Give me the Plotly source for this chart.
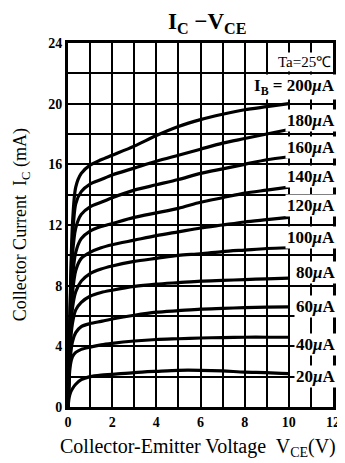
import plotly.graph_objects as go

# V_CE sample points (V) and I_C readings (mA) for each base current
vce = [0, 0.05, 0.1, 0.2, 0.35, 0.6, 1, 1.5, 2, 3, 4, 5, 6, 7, 8, 9, 10]

ib_ua = [200, 180, 160, 140, 120, 100, 80, 60, 40, 20]

ic_200 = [0, 3, 7, 12, 14.5, 15.4, 15.95, 16.3, 16.6, 17.2, 17.9, 18.5, 18.95, 19.3, 19.6, 19.8, 20.0]
ic_180 = [0, 3, 6.5, 11, 13.4, 14.2, 14.7, 15.0, 15.3, 15.75, 16.2, 16.6, 17.0, 17.4, 17.7, 18.0, 18.3]
ic_160 = [0, 3, 6, 10, 11.8, 12.7, 13.2, 13.5, 13.8, 14.3, 14.65, 15.0, 15.4, 15.7, 16.0, 16.3, 16.5]
ic_140 = [0, 3, 5.5, 8.5, 10.2, 11.1, 11.6, 11.9, 12.1, 12.5, 12.8, 13.1, 13.5, 13.8, 14.1, 14.3, 14.5]
ic_120 = [0, 2.5, 5, 7.5, 9.0, 9.8, 10.2, 10.5, 10.7, 11.0, 11.3, 11.55, 11.8, 12.0, 12.2, 12.35, 12.5]
ic_100 = [0, 2.5, 4.5, 6.5, 7.6, 8.3, 8.8, 9.1, 9.3, 9.6, 9.8, 10.0, 10.1, 10.25, 10.35, 10.45, 10.5]
ic_80 = [0, 2, 4, 5.5, 6.4, 6.9, 7.3, 7.55, 7.7, 7.95, 8.1, 8.2, 8.3, 8.35, 8.4, 8.45, 8.5]
ic_60 = [0, 2, 3.2, 4.3, 4.9, 5.3, 5.5, 5.65, 5.8, 6.05, 6.25, 6.35, 6.45, 6.5, 6.55, 6.58, 6.6]
ic_40 = [0, 1.8, 2.7, 3.3, 3.6, 3.8, 3.95, 4.1, 4.2, 4.35, 4.45, 4.5, 4.55, 4.58, 4.6, 4.6, 4.6]
ic_20 = [0, 0.6, 0.9, 1.2, 1.5, 1.8, 2.0, 2.1, 2.15, 2.27, 2.35, 2.42, 2.42, 2.38, 2.3, 2.27, 2.2]

curves = [ic_200, ic_180, ic_160, ic_140, ic_120, ic_100, ic_80, ic_60, ic_40, ic_20]

# label heights (mA) for the right-hand curve tags
label_y = [21.1, 18.9, 17.1, 15.2, 13.3, 11.2, 8.85, 6.6, 4.1, 2.0]

SERIF = "Liberation Serif, Times New Roman, serif"

fig = go.Figure()
for ib, ic in zip(ib_ua, curves):
    fig.add_trace(go.Scatter(
        x=vce, y=ic, mode="lines", name=f"{ib} uA",
        line=dict(color="black", width=3.2, shape="spline", smoothing=0.8),
        showlegend=False,
    ))

annotations = []
for i, (ib, ly) in enumerate(zip(ib_ua, label_y)):
    txt = f"{ib}<i>μ</i>A"
    if i == 0:
        txt = f"I<sub>B</sub> = {ib}<i>μ</i>A"
    annotations.append(dict(
        x=12, y=ly, xref="x", yref="y", text=txt, showarrow=False,
        xanchor="right", yanchor="middle", bgcolor="white", xshift=4,
        font=dict(family=SERIF, size=17, color="black", weight="bold"),
        borderpad=1,
    ))
annotations.append(dict(
    x=12, y=22.75, xref="x", yref="y", text="Ta=25℃", showarrow=False,
    xanchor="right", yanchor="middle", bgcolor="white",
    font=dict(family=SERIF, size=15, color="black"), borderpad=1,
))

# titles placed in paper coords (plot area is 272 px wide, 364 px tall)
annotations += [
    dict(x=0.526, y=1.056, xref="paper", yref="paper", showarrow=False,
         xanchor="center", yanchor="middle",
         text="I<sub>C</sub> −V<sub>CE</sub>",
         font=dict(family=SERIF, size=23, color="black", weight="bold")),
    dict(x=0.49, y=-0.112, xref="paper", yref="paper", showarrow=False,
         xanchor="center", yanchor="middle",
         text="Collector-Emitter Voltage  V<sub>CE</sub>(V)",
         font=dict(family=SERIF, size=20, color="black")),
    dict(x=-0.176, y=0.5, xref="paper", yref="paper", showarrow=False,
         xanchor="center", yanchor="middle",
         text="Collector Current  I<sub>C</sub> (mA)", textangle=-90,
         font=dict(family=SERIF, size=18, color="black")),
]

grid = dict(showgrid=True, gridcolor="black", gridwidth=2)

fig.update_layout(
    width=337, height=455,
    margin=dict(l=60, r=5, t=35, b=56),
    paper_bgcolor="white", plot_bgcolor="white",
    annotations=annotations,
    xaxis=dict(
        range=[0, 12], dtick=2, tick0=0,
        minor=dict(dtick=1, **grid),
        showline=True, linecolor="black", linewidth=3, mirror=True,
        ticks="", zeroline=False, **grid,
        tickfont=dict(family=SERIF, size=14, color="black", weight="bold"),
    ),
    yaxis=dict(
        range=[0, 24], dtick=4, tick0=0,
        minor=dict(dtick=2, **grid),
        showline=True, linecolor="black", linewidth=3, mirror=True,
        ticks="", zeroline=False, **grid,
        tickfont=dict(family=SERIF, size=14, color="black", weight="bold"),
    ),
)

fig.write_html("out.html")
